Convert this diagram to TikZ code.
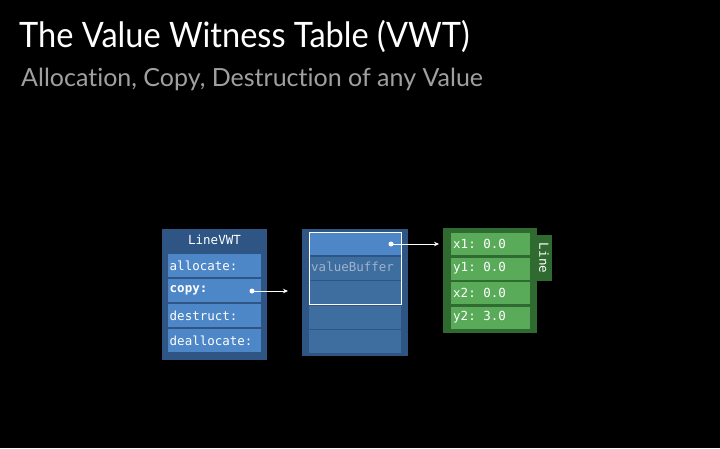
\documentclass[tikz,border=0pt]{standalone}
\usepackage{fontspec}
\setmainfont{Lato}[Ligatures=NoCommon]
\newfontfamily\titlefont{Lato}[Ligatures=NoCommon, FakeStretch=0.93]
\setmonofont{DejaVu Sans Mono}
\usetikzlibrary{arrows.meta}
\definecolor{bgblack}{HTML}{000000}
\definecolor{outerblue}{HTML}{2E5584}
\definecolor{lightrow}{HTML}{4D87C7}
\definecolor{darkrow}{HTML}{3E6D9F}
\definecolor{outergreen}{HTML}{2F6A30}
\definecolor{greenrow}{HTML}{5AAB59}
\definecolor{subgray}{HTML}{A0A0A0}
\definecolor{buftext}{HTML}{9DB3CC}
\tikzset{
  box/.style={draw=none, inner sep=0pt, outer sep=0pt, rectangle},
  frame/.style={box, fill=outerblue},
  vrow/.style={box, fill=lightrow, minimum width=93pt, minimum height=23pt},
  mrow/.style={box, fill=darkrow, minimum width=92pt, minimum height=23pt},
  greenrowbox/.style={box, fill=greenrow, minimum width=79pt, minimum height=22pt},
  mono/.style={font=\ttfamily\fontsize{12.5}{13}\selectfont, text=white, inner sep=0pt},
  dotnode/.style={circle, fill=white, inner sep=0pt, minimum size=5pt},
  ptr/.style={draw=white, line width=0.9pt, -{Stealth[length=5pt,width=4.5pt]}}
}
\begin{document}
\begin{tikzpicture}[x=1pt,y=-1pt]
\fill[bgblack] (0,0) rectangle (720,448);
\useasboundingbox (0,0) rectangle (720,448);
% titles
\node[anchor=base west, inner sep=0pt, text=white, font=\titlefont\fontsize{35}{40}\selectfont] (title) at (19,47) {The Value Witness Table (VWT)};
\node[anchor=base west, inner sep=0pt, text=subgray, font=\fontsize{25}{30}\selectfont] (subtitle) at (21,86) {Allocation, Copy, Destruction of any Value};
% LineVWT
\node[frame, minimum width=105pt, minimum height=131pt] (vwt) at (214.5,294.5) {};
\node[mono] (vwthead) at (214.5,240) {LineVWT};
\node[vrow] (r1) at (214.5,265.5) {};
\node[vrow] (r2) at (214.5,290.5) {};
\node[vrow] (r3) at (214.5,315.5) {};
\node[vrow] (r4) at (214.5,340.5) {};
\node[mono, anchor=west] (t1) at (169.5,265.5) {allocate:};
\node[mono, anchor=west] (t2) at (169.5,290.5) {\bfseries copy:};
\node[mono, anchor=west] (t3) at (169.5,315.5) {destruct:};
\node[mono, anchor=west] (t4) at (169.5,340.5) {deallocate:};
\node[dotnode] (d1) at (252,291) {};
\coordinate (e1) at (288,291);
\draw[ptr] (d1.center) -- (e1);
% existential container
\node[frame, minimum width=106pt, minimum height=127pt] (cont) at (355,292.5) {};
\node[mrow, fill=lightrow] (m1) at (355,243.5) {};
\node[mrow] (m2) at (355,268.5) {};
\node[mrow] (m3) at (355,292.5) {};
\node[mrow] (m4) at (355,317) {};
\node[mrow] (m5) at (355,341.5) {};
\node[mono, text=buftext, anchor=west] (buf) at (311,266.5) {valueBuffer};
\draw[white, line width=1pt] (309,232) rectangle (401,304);
\node[dotnode] (d2) at (391,244) {};
\coordinate (e2) at (439,244);
\draw[ptr] (d2.center) -- (e2);
% Line value
\node[box, fill=outergreen, minimum width=15pt, minimum height=46pt] (tab) at (544.5,258) {};
\node[mono, rotate=-90] (tabtext) at (544,258) {Line};
\node[box, fill=outergreen, minimum width=94pt, minimum height=105pt] (val) at (490,280.5) {};
\node[greenrowbox] (g1) at (490.5,244) {};
\node[greenrowbox] (g2) at (490.5,268.5) {};
\node[greenrowbox] (g3) at (490.5,293) {};
\node[greenrowbox] (g4) at (490.5,317.5) {};
\node[mono, anchor=west] (gt1) at (453,244) {x1: 0.0};
\node[mono, anchor=west] (gt2) at (453,268.5) {y1: 0.0};
\node[mono, anchor=west] (gt3) at (453,293) {x2: 0.0};
\node[mono, anchor=west] (gt4) at (453,317.5) {y2: 3.0};
\end{tikzpicture}
\end{document}
